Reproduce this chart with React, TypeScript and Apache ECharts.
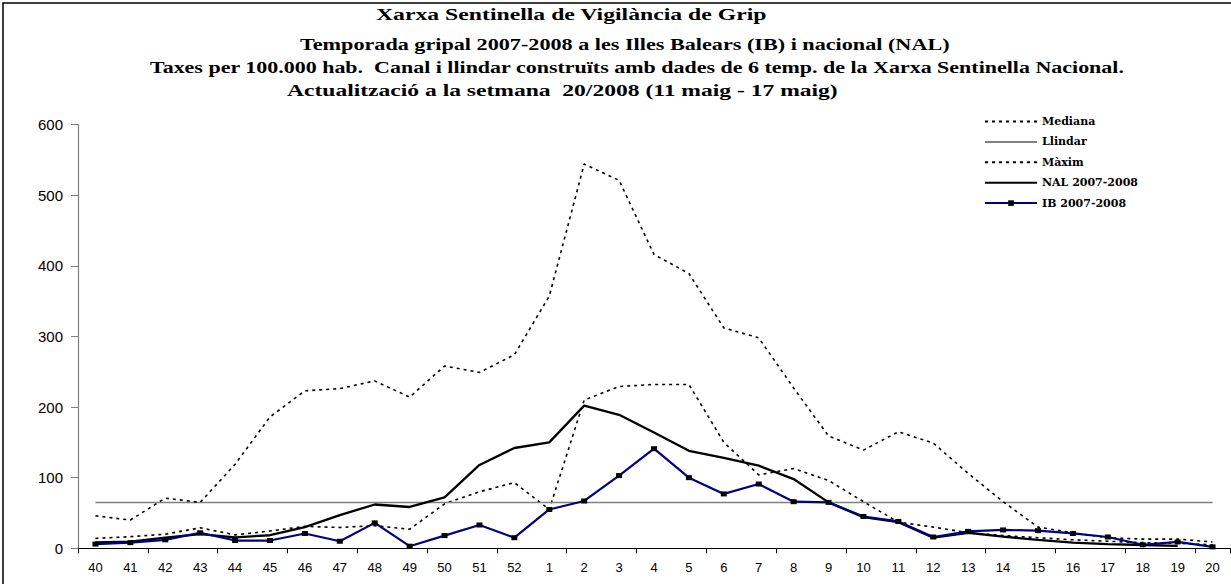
import React, { useEffect, useRef } from 'react';
import * as echarts from 'echarts';

// Weeks of the 2007-2008 flu season
const weeks = ['40','41','42','43','44','45','46','47','48','49','50','51','52','1','2','3','4','5','6','7','8','9','10','11','12','13','14','15','16','17','18','19','20'];

// Rates per 100,000 inhabitants
const mediana = [14, 16.5, 20, 29, 19, 24.5, 31, 29.5, 32, 27, 63, 80, 93, 55, 210, 229, 232, 232, 150, 104, 113, 96, 66, 37, 30, 22, 18, 15, 12, 10, 8, 7, 5];
const llindar = [64.8, 64.8, 64.8, 64.8, 64.8, 64.8, 64.8, 64.8, 64.8, 64.8, 64.8, 64.8, 64.8, 64.8, 64.8, 64.8, 64.8, 64.8, 64.8, 64.8, 64.8, 64.8, 64.8, 64.8, 64.8, 64.8, 64.8, 64.8, 64.8, 64.8, 64.8, 64.8, 64.8];
const maxim = [46, 40, 71, 65, 119, 186, 223, 226, 237, 214, 258, 249, 274, 357, 544, 521, 416, 389, 312, 298, 227, 159, 139, 165, 149, 106, 66, 30, 22, 15, 13, 13, 9];
const nal = [8.5, 9.5, 15, 20, 15.5, 18.5, 30, 47, 62, 58.5, 72, 118, 142, 150, 202, 189, 164, 138, 128, 117, 98, 65, 44, 37, 15, 22, 16.5, 12, 8, 6, 4.7, 3.3, null];
const ib = [6, 8, 12, 22, 11, 11, 21, 10, 36, 3, 18, 33, 15, 55, 67, 103, 141, 100, 77, 91, 66, 65, 45, 38, 16, 24, 26, 25, 21, 16, 5, 9, 2];

const seriesNames = ['Mediana', 'Llindar', 'Màxim', 'NAL 2007-2008', 'IB 2007-2008'];

const yMin = 0;
const yMax = 600;
const yStep = 100;

const titleLines = [
  'Xarxa Sentinella de Vigilància de Grip',
  'Temporada gripal 2007-2008 a les Illes Balears (IB) i nacional (NAL)',
  'Taxes per 100.000 hab.  Canal i llindar construïts amb dades de 6 temp. de la Xarxa Sentinella Nacional.',
  'Actualització a la setmana  20/2008 (11 maig - 17 maig)',
];

// layout of title lines: left x, target width, center y
const titleLayout = [
  { x0: 376, w: 391, y: 14 },
  { x0: 300, w: 650, y: 45 },
  { x0: 150, w: 975, y: 68 },
  { x0: 287, w: 551, y: 90 },
];

const TITLE_FAMILY = '"Liberation Serif", "Times New Roman", serif';
const TITLE_SIZE = 16;

function measure(text: string): number {
  const c = document.createElement('canvas');
  const ctx = c.getContext('2d');
  if (!ctx) return text.length * 7;
  ctx.font = `bold ${TITLE_SIZE}px ${TITLE_FAMILY}`;
  return ctx.measureText(text).width;
}

export default function App() {
  const ref = useRef<HTMLDivElement>(null);

  useEffect(() => {
    if (!ref.current) return;
    const chart = echarts.init(ref.current, undefined, { renderer: 'svg' });

    const titleGraphics = titleLines.map((t, i) => {
      const L = titleLayout[i];
      const sx = L.w / measure(t);
      return {
        type: 'text',
        x: L.x0,
        y: L.y,
        scaleX: sx,
        silent: true,
        style: {
          text: t,
          x: 0,
          y: 0,
          fill: '#000',
          fontFamily: TITLE_FAMILY,
          fontWeight: 'bold',
          fontSize: TITLE_SIZE,
          align: 'left',
          verticalAlign: 'middle',
        },
      };
    });

    const dotted = [3, 4];

    const option: any = {
      animation: false,
      backgroundColor: '#fff',
      grid: { left: 78, right: 1, top: 124.5, bottom: 35.7, containLabel: false },
      graphic: [
        {
          type: 'rect',
          silent: true,
          shape: { x: 3, y: 3, width: 1300, height: 700 },
          style: { fill: 'none', stroke: '#000', lineWidth: 1.5 },
        },
        ...titleGraphics,
      ],
      legend: {
        orient: 'vertical',
        left: 979,
        top: 111,
        itemWidth: 52,
        itemHeight: 7,
        itemGap: 9.4,
        selectedMode: false,
        textStyle: {
          fontFamily: '"DejaVu Serif", serif',
          fontWeight: 'bold',
          fontSize: 11,
          color: '#000',
        },
        data: [
          { name: seriesNames[0], itemStyle: { opacity: 0 } },
          { name: seriesNames[1], itemStyle: { opacity: 0 } },
          { name: seriesNames[2], itemStyle: { opacity: 0 } },
          { name: seriesNames[3], itemStyle: { opacity: 0 } },
          { name: seriesNames[4] },
        ],
      },
      xAxis: {
        type: 'category',
        data: weeks,
        boundaryGap: true,
        axisLine: { lineStyle: { color: '#000', width: 1.2 } },
        axisTick: { show: true, interval: 1, length: 5, lineStyle: { color: '#000' } },
        axisLabel: {
          interval: 0,
          margin: 13,
          color: '#000',
          fontFamily: '"Liberation Sans", Arial, sans-serif',
          fontSize: 13,
        },
        splitLine: { show: false },
      },
      yAxis: {
        type: 'value',
        min: yMin,
        max: yMax,
        interval: yStep,
        axisLine: { show: true, lineStyle: { color: '#808080', width: 1.2 } },
        axisTick: { show: true, length: 7, lineStyle: { color: '#808080' } },
        axisLabel: {
          margin: 15,
          color: '#000',
          fontFamily: '"Liberation Sans", Arial, sans-serif',
          fontSize: 15,
        },
        splitLine: { show: false },
      },
      series: [
        {
          name: seriesNames[0],
          type: 'line',
          data: mediana,
          symbol: 'none',
          lineStyle: { color: '#000', width: 1.6, type: dotted },
          itemStyle: { color: '#000' },
          z: 2,
        },
        {
          name: seriesNames[1],
          type: 'line',
          data: llindar,
          symbol: 'none',
          lineStyle: { color: '#808080', width: 1.5 },
          itemStyle: { color: '#808080' },
          z: 2,
        },
        {
          name: seriesNames[2],
          type: 'line',
          data: maxim,
          symbol: 'none',
          lineStyle: { color: '#000', width: 1.6, type: dotted },
          itemStyle: { color: '#000' },
          z: 2,
        },
        {
          name: seriesNames[3],
          type: 'line',
          data: nal,
          symbol: 'none',
          connectNulls: false,
          lineStyle: { color: '#000', width: 2.3 },
          itemStyle: { color: '#000' },
          z: 3,
        },
        {
          name: seriesNames[4],
          type: 'line',
          data: ib,
          symbol: 'rect',
          symbolSize: [6, 5],
          showAllSymbol: true,
          lineStyle: { color: '#000080', width: 2.2 },
          itemStyle: { color: '#000' },
          z: 4,
        },
      ],
    };

    chart.setOption(option);
    return () => chart.dispose();
  }, []);

  return (
    <div
      ref={ref}
      style={{ position: 'absolute', left: 0, top: 0, width: 1231, height: 584, background: '#fff' }}
    />
  );
}
